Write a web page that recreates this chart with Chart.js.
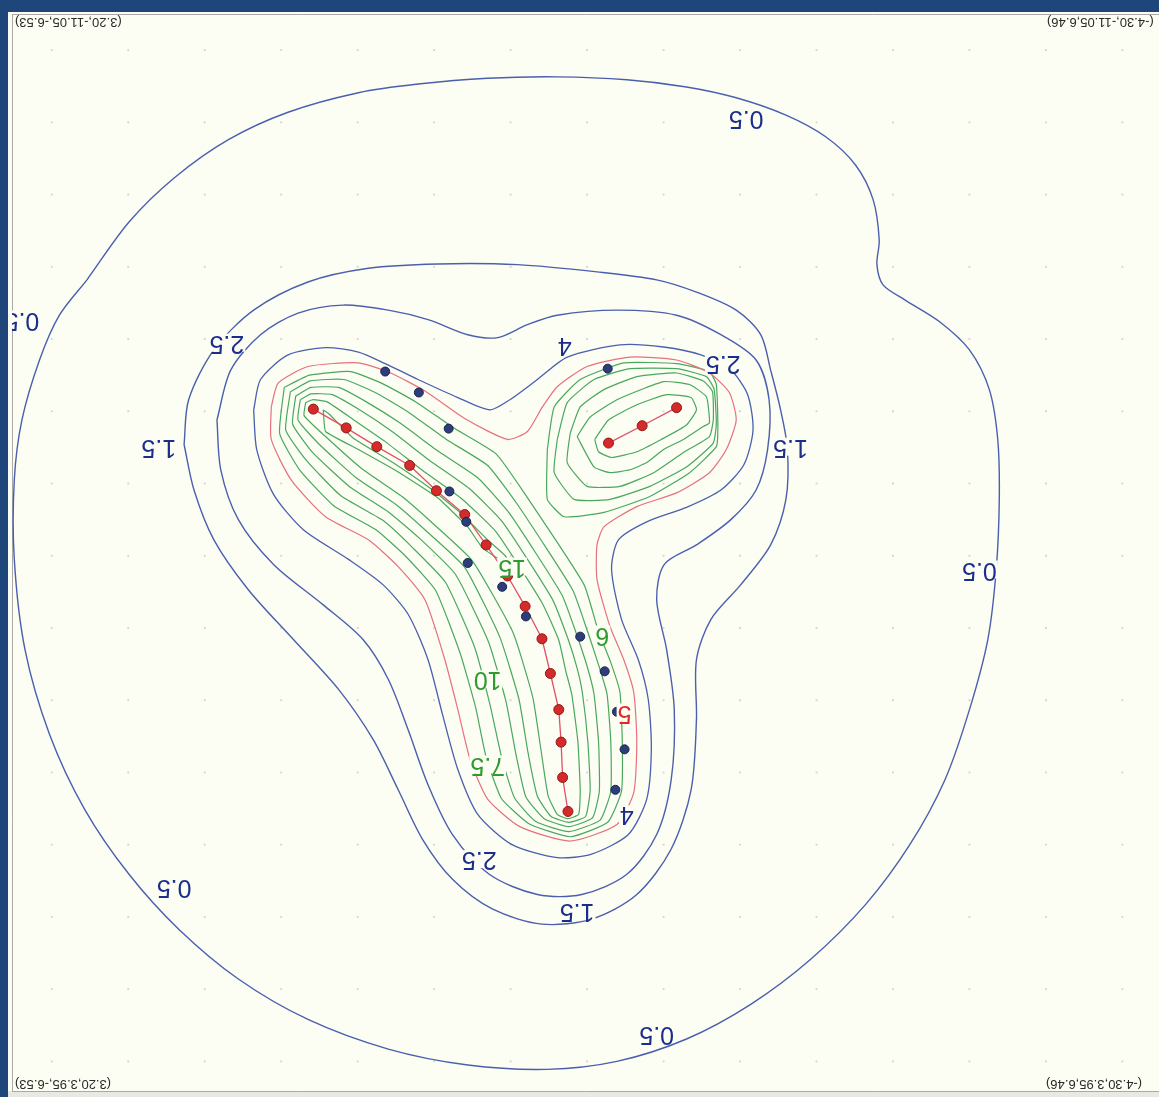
<!DOCTYPE html>
<html><head><meta charset="utf-8">
<script src="https://cdn.jsdelivr.net/npm/chart.js@4/dist/chart.umd.min.js"></script>
<style>
html,body{margin:0;padding:0;background:#1f467a;overflow:hidden}
canvas{display:block}
</style></head><body>
<canvas id="c" width="1159" height="1097" style="width:1159px;height:1097px"></canvas>
<script>
// Grid units: grid dots sit at integer columns/rows.
const gridCols = [0,1,2,3,4,5,6,7,8,9,10,11,12,13,14];
const gridRows = [0,1,2,3,4,5,6,7,8,9,10,11,12,13,14];

const contour0_5 = [[0.46,3.18],[1.01,2.38],[1.60,1.77],[2.31,1.24],[3.09,0.86],[4.01,0.59],[4.79,0.47],[5.70,0.39],[6.61,0.37],[7.52,0.41],[8.30,0.51],[8.95,0.66],[9.60,0.90],[10.12,1.20],[10.51,1.59],[10.74,2.07],[10.82,2.63],[10.79,2.97],[10.87,3.25],[11.16,3.46],[11.61,3.76],[12.00,4.15],[12.26,4.70],[12.37,5.39],[12.39,6.22],[12.35,7.19],[12.24,8.16],[12.00,9.13],[11.68,10.10],[11.22,11.00],[10.64,11.83],[9.92,12.59],[9.14,13.21],[8.30,13.69],[7.39,14.00],[6.48,14.11],[5.44,14.05],[4.40,13.83],[3.35,13.42],[2.44,12.86],[1.66,12.17],[1.01,11.41],[0.43,10.51],[-0.03,9.47],[-0.35,8.30],[-0.49,7.05],[-0.49,5.95],[-0.39,5.12],[-0.16,4.29],[0.10,3.67]];
const contour1_5 = [[1.73,5.46],[1.79,4.84],[2.12,4.15],[2.64,3.60],[3.35,3.21],[4.14,3.02],[5.05,2.96],[6.09,2.97],[7.13,3.07],[7.91,3.18],[8.43,3.35],[8.95,3.60],[9.27,3.94],[9.40,4.43],[9.53,4.98],[9.62,5.53],[9.60,6.22],[9.40,6.85],[9.01,7.40],[8.62,7.88],[8.43,8.44],[8.43,9.27],[8.36,10.24],[8.10,11.06],[7.65,11.69],[7.06,12.03],[6.41,12.10],[5.76,11.89],[5.24,11.48],[4.85,10.93],[4.53,10.24],[4.20,9.54],[3.75,8.85],[3.16,8.16],[2.57,7.47],[2.12,6.78],[1.86,6.09]];
const contour2_5 = [[2.16,5.12],[2.34,4.43],[2.73,3.94],[3.22,3.64],[3.81,3.53],[4.40,3.60],[4.92,3.73],[5.44,3.94],[5.83,3.98],[6.22,3.80],[6.61,3.67],[7.39,3.60],[8.17,3.67],[8.75,3.94],[9.21,4.29],[9.38,4.84],[9.36,5.53],[9.21,6.09],[8.88,6.50],[8.43,6.85],[8.01,7.12],[7.91,7.61],[8.04,8.30],[8.14,9.13],[8.10,10.10],[7.91,10.86],[7.52,11.41],[6.93,11.69],[6.35,11.69],[5.72,11.41],[5.24,10.86],[4.92,10.17],[4.66,9.41],[4.40,8.71],[4.07,8.16],[3.55,7.68],[2.90,7.12],[2.44,6.50],[2.21,5.81]];
const contour4 = [[2.64,4.98],[2.73,4.56],[3.09,4.22],[3.58,4.12],[4.01,4.18],[4.36,4.34],[4.79,4.56],[5.31,4.81],[5.73,4.98],[5.99,4.84],[6.35,4.56],[6.74,4.25],[7.43,4.08],[8.00,4.11],[8.49,4.22],[8.88,4.43],[9.10,4.77],[9.17,5.26],[9.05,5.74],[8.75,6.09],[8.30,6.33],[7.78,6.53],[7.41,6.78],[7.32,7.19],[7.45,7.88],[7.67,8.44],[7.80,8.99],[7.84,9.68],[7.78,10.37],[7.54,10.86],[7.06,11.13],[6.61,11.18],[6.02,11.00],[5.57,10.58],[5.31,9.96],[5.11,9.20],[4.92,8.44],[4.66,7.81],[4.33,7.40],[3.88,7.05],[3.29,6.64],[2.90,6.15],[2.68,5.53]];
const contour5 = [[2.87,4.94],[2.96,4.61],[3.35,4.38],[4.01,4.33],[4.43,4.47],[4.88,4.72],[5.40,5.10],[5.96,5.39],[6.22,5.28],[6.41,4.95],[6.61,4.66],[7.00,4.38],[7.56,4.25],[8.17,4.29],[8.60,4.47],[8.86,4.74],[8.95,5.12],[8.82,5.53],[8.60,5.85],[8.17,6.13],[7.65,6.32],[7.22,6.60],[7.13,6.85],[7.13,7.33],[7.30,7.98],[7.48,8.44],[7.61,8.89],[7.65,9.58],[7.61,10.28],[7.39,10.72],[6.78,10.95],[6.12,10.75],[5.70,10.37],[5.47,9.82],[5.31,9.13],[5.14,8.44],[4.88,7.61],[4.53,7.15],[4.14,6.78],[3.58,6.46],[3.13,5.95],[2.87,5.39]];
const contour6 = [[3.04,4.67],[3.37,4.50],[3.91,4.45],[4.33,4.62],[4.76,4.87],[5.27,5.24],[5.81,5.59],[6.19,6.15],[6.96,7.40],[7.14,8.02],[7.31,8.48],[7.43,8.89],[7.46,9.58],[7.45,10.26],[7.27,10.69],[6.78,10.89],[6.24,10.71],[5.88,10.36],[5.68,9.79],[5.54,9.09],[5.34,8.35],[5.02,7.48],[4.63,7.01],[4.24,6.64],[3.69,6.31],[3.24,5.81],[2.98,5.31]];
const contour7_5 = [[3.12,4.73],[3.38,4.58],[3.82,4.56],[4.23,4.74],[4.66,5.01],[5.16,5.39],[5.70,5.75],[6.09,6.29],[6.81,7.47],[7.01,8.06],[7.15,8.51],[7.26,8.91],[7.31,9.58],[7.31,10.26],[7.17,10.66],[6.76,10.82],[6.33,10.68],[6.05,10.35],[5.88,9.78],[5.73,9.06],[5.53,8.27],[5.15,7.37],[4.72,6.89],[4.33,6.51],[3.78,6.17],[3.33,5.68],[3.06,5.26]];
const contour9 = [[3.19,4.79],[3.39,4.67],[3.75,4.67],[4.13,4.88],[4.55,5.16],[5.05,5.55],[5.57,5.92],[5.99,6.42],[6.67,7.54],[6.87,8.11],[7.00,8.53],[7.09,8.91],[7.15,9.58],[7.16,10.26],[7.07,10.63],[6.76,10.75],[6.44,10.64],[6.20,10.34],[6.07,9.75],[5.94,9.02],[5.71,8.19],[5.28,7.26],[4.81,6.76],[4.41,6.40],[3.89,6.04],[3.41,5.57],[3.15,5.18]];
const contour10 = [[3.25,4.84],[3.39,4.76],[3.67,4.77],[4.04,4.99],[4.45,5.28],[4.94,5.68],[5.46,6.07],[5.90,6.54],[6.54,7.59],[6.75,8.15],[6.87,8.56],[6.94,8.91],[7.01,9.58],[7.04,10.25],[6.98,10.61],[6.76,10.69],[6.53,10.61],[6.35,10.33],[6.23,9.74],[6.11,8.99],[5.86,8.13],[5.40,7.16],[4.89,6.65],[4.50,6.29],[3.98,5.92],[3.50,5.46],[3.22,5.12]];
const contour12_5 = [[3.32,4.88],[3.41,4.84],[3.60,4.87],[3.95,5.12],[4.36,5.42],[4.85,5.82],[5.36,6.21],[5.81,6.67],[6.41,7.65],[6.63,8.17],[6.72,8.59],[6.80,8.92],[6.88,9.58],[6.91,10.25],[6.89,10.58],[6.75,10.64],[6.61,10.58],[6.49,10.32],[6.40,9.71],[6.29,8.96],[6.03,8.06],[5.50,7.07],[4.97,6.54],[4.58,6.18],[4.06,5.80],[3.58,5.35],[3.30,5.06]];
const contour15 = [[3.55,4.98],[3.58,5.28],[4.01,5.53],[4.53,5.84],[5.05,6.20],[5.44,6.60],[5.63,6.89],[5.89,7.08],[6.02,7.19],[5.93,7.00],[5.70,6.78],[5.33,6.39],[4.94,6.06],[4.46,5.71],[3.94,5.37],[3.62,5.03]];
const peakB6 = [[6.48,5.53],[6.57,4.94],[6.91,4.56],[7.48,4.33],[8.17,4.34],[8.60,4.45],[8.69,4.63],[8.71,5.21],[8.69,5.49],[8.34,5.85],[7.82,6.18],[7.22,6.40],[6.70,6.46],[6.48,6.22]];
const peakB7_5 = [[6.61,5.39],[6.74,4.88],[7.09,4.56],[7.56,4.41],[8.17,4.41],[8.56,4.52],[8.66,4.69],[8.69,5.16],[8.65,5.44],[8.30,5.77],[7.82,6.04],[7.30,6.22],[6.83,6.22],[6.57,5.85]];
const peakB9 = [[6.78,5.30],[6.91,4.94],[7.22,4.70],[7.65,4.52],[8.17,4.47],[8.52,4.58],[8.64,4.73],[8.65,5.12],[8.60,5.35],[8.26,5.57],[7.87,5.85],[7.43,6.04],[7.00,6.04],[6.74,5.71]];
const peakB10 = [[6.87,5.35],[7.04,5.08],[7.39,4.84],[8.00,4.59],[8.34,4.63],[8.56,4.80],[8.60,5.16],[8.52,5.21],[8.26,5.39],[8.00,5.53],[7.78,5.71],[7.56,5.81],[7.30,5.85],[7.09,5.77]];
const peakB12_5 = [[7.10,5.39],[7.28,5.12],[7.65,4.91],[8.04,4.77],[8.36,4.81],[8.43,4.98],[8.30,5.19],[7.97,5.39],[7.65,5.56],[7.32,5.64],[7.15,5.56]];

const ridgeMain = [[3.42,4.97],[3.85,5.23],[4.25,5.49],[4.68,5.75],[5.03,6.10],[5.40,6.43],[5.68,6.85],[5.96,7.28],[6.19,7.70],[6.41,8.15],[6.52,8.63],[6.63,9.13],[6.66,9.58],[6.68,10.07],[6.75,10.54]];
const ridgeB = [[7.28,5.44],[7.72,5.20],[8.17,4.95]];
const bluePoints = [[4.36,4.45],[4.80,4.74],[5.19,5.24],[5.20,6.11],[5.42,6.53],[5.44,7.10],[5.89,7.43],[6.20,7.84],[6.91,8.12],[7.23,8.60],[7.39,9.16],[7.49,9.68],[7.37,10.24],[7.27,4.41]];

const levelLabels = [
  ['0.5',9.08,0.94,'blue'],['0.5',-0.39,3.73,'blue'],['0.5',12.13,7.19,'blue'],['0.5',1.60,11.58,'blue'],['0.5',7.91,13.62,'blue'],
  ['1.5',1.40,5.49,'blue'],['1.5',9.66,5.49,'blue'],['1.5',6.87,11.92,'blue'],
  ['2.5',2.29,4.05,'blue'],['2.5',5.59,11.20,'blue'],['2.5',8.78,4.33,'blue'],
  ['4',6.71,4.08,'blue'],['4',7.52,10.58,'blue'],
  ['5',7.49,9.17,'red'],
  ['6',7.20,8.09,'green'],['10',5.70,8.71,'green'],['7.5',5.70,9.89,'green'],['15',6.02,7.15,'green']
];
const cornerLabels = ['(3.20,-11.05,-6.53)','(-4.30,-11.05,6.46)','(3.20,3.95,-6.53)','(-4.30,3.95,6.46)'];

const COL = {blue:'#4b5fae', red:'#e7707f', green:'#4aa85e', tblue:'#1c2d8c', tred:'#e02a2a', tgreen:'#2f9a2f', bg:'#fcfdf3'};

function pts(a, close){ const r=a.map(p=>({x:p[0],y:p[1]})); if(close) r.push({x:a[0][0],y:a[0][1]}); return r; }
function contourDs(a,color,w,t){ return {type:'line',data:pts(a,true),borderColor:color,borderWidth:w,pointRadius:0,fill:false,tension:t,order:5}; }

const gridData=[]; gridRows.forEach(r=>gridCols.forEach(c=>gridData.push({x:c,y:r})));

const datasets = [
  {type:'scatter',data:gridData,pointStyle:'rect',pointRadius:1.3,backgroundColor:'#d4d4ce',borderWidth:0,order:10},
  contourDs(contour0_5,COL.blue,1.4,0.3),
  contourDs(contour1_5,COL.blue,1.4,0.3),
  contourDs(contour2_5,COL.blue,1.4,0.3),
  contourDs(contour4,COL.blue,1.3,0.25),
  contourDs(contour5,COL.red,1.2,0.2),
  contourDs(contour6,COL.green,1.2,0.15),
  contourDs(contour7_5,COL.green,1.2,0.15),
  contourDs(contour9,COL.green,1.2,0.15),
  contourDs(contour10,COL.green,1.2,0.15),
  contourDs(contour12_5,COL.green,1.2,0.15),
  contourDs(contour15,COL.green,1.2,0.1),
  contourDs(peakB6,COL.green,1.2,0.15),
  contourDs(peakB7_5,COL.green,1.2,0.15),
  contourDs(peakB9,COL.green,1.2,0.15),
  contourDs(peakB10,COL.green,1.2,0.15),
  contourDs(peakB12_5,COL.green,1.2,0.15),
  {type:'line',data:pts(ridgeMain,false),borderColor:'#e0506a',borderWidth:1.3,pointRadius:5,pointBackgroundColor:'#d42a2a',pointBorderColor:'#8f1a1a',pointBorderWidth:1,fill:false,tension:0,order:2},
  {type:'line',data:pts(ridgeB,false),borderColor:'#e0506a',borderWidth:1.3,pointRadius:5,pointBackgroundColor:'#d42a2a',pointBorderColor:'#8f1a1a',pointBorderWidth:1,fill:false,tension:0,order:2},
  {type:'scatter',data:pts(bluePoints,false),pointRadius:4.5,backgroundColor:'#2d3d7a',borderColor:'#1a2450',borderWidth:1,order:1}
];

const framePlugin = {
  id:'frame',
  beforeDraw(chart){
    const {ctx,chartArea:a,width,height}=chart;
    ctx.save();
    ctx.fillStyle='#1f467a'; ctx.fillRect(0,0,width,height);
    ctx.fillStyle='#e8e9e4'; ctx.fillRect(8,a.bottom,width-8,height-a.bottom);
    ctx.fillStyle=COL.bg; ctx.fillRect(8,12,width-8,a.bottom-12);
    ctx.strokeStyle='#a9aaa6'; ctx.lineWidth=1;
    ctx.beginPath(); ctx.moveTo(a.left+0.5,a.top); ctx.lineTo(a.left+0.5,a.bottom); ctx.moveTo(a.left,a.top+0.5); ctx.lineTo(width,a.top+0.5);
    ctx.moveTo(a.left,a.bottom+0.5); ctx.lineTo(width,a.bottom+0.5); ctx.stroke();
    ctx.restore();
  },
  afterDatasetsDraw(chart){
    const {ctx,chartArea:a,scales:{x,y}}=chart;
    ctx.save();
    ctx.beginPath(); ctx.rect(a.left,a.top,a.right-a.left,a.bottom-a.top); ctx.clip();
    ctx.font='25px "Liberation Sans", Arial, sans-serif';
    ctx.textAlign='center'; ctx.textBaseline='middle';
    levelLabels.forEach(([t,gx,gy,c])=>{
      const px=x.getPixelForValue(gx), py=y.getPixelForValue(gy);
      const w=ctx.measureText(t).width;
      ctx.fillStyle=COL.bg; ctx.fillRect(px-w/2-1,py-9,w+2,18);
      ctx.save(); ctx.translate(px,py); ctx.rotate(Math.PI);
      ctx.fillStyle = c==='blue'?COL.tblue:(c==='red'?COL.tred:COL.tgreen);
      ctx.fillText(t,0,0); ctx.restore();
    });
    ctx.font='13px "Liberation Sans", Arial, sans-serif';
    ctx.fillStyle='#2a2a2a';
    const w0=ctx.measureText(cornerLabels[0]).width, w1=ctx.measureText(cornerLabels[1]).width,
          w2=ctx.measureText(cornerLabels[2]).width, w3=ctx.measureText(cornerLabels[3]).width;
    const pos=[[a.left+3+w0/2,a.top+8],[a.right-106+w1/2,a.top+8],[a.left+3+w2/2,a.bottom-7],[a.right-107+w3/2,a.bottom-7]];
    cornerLabels.forEach((t,i)=>{ ctx.save(); ctx.translate(pos[i][0],pos[i][1]); ctx.rotate(Math.PI); ctx.fillText(t,0,0); ctx.restore(); });
    ctx.restore();
  }
};

new Chart(document.getElementById('c'),{
  data:{datasets},
  options:{
    responsive:false, animation:false, devicePixelRatio:1,
    layout:{padding:{left:12,top:14,right:0,bottom:4}},
    plugins:{legend:{display:false},tooltip:{enabled:false}},
    scales:{
      x:{type:'linear',min:-0.52,max:14.40,display:false},
      y:{type:'linear',min:-0.50,max:14.41,reverse:true,display:false}
    }
  },
  plugins:[framePlugin]
});
</script></body></html>
